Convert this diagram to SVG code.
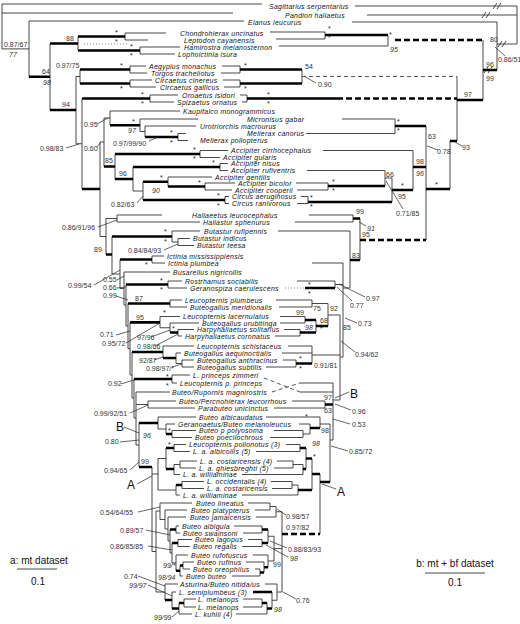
<svg xmlns="http://www.w3.org/2000/svg" width="520" height="624" viewBox="0 0 520 624">
<style>
.t{fill:none;stroke:#333;stroke-width:0.9}
.b{fill:none;stroke:#000;stroke-width:2.6}
.db{fill:none;stroke:#000;stroke-width:2.6;stroke-dasharray:6 3}
.dt{fill:none;stroke:#444;stroke-width:0.9;stroke-dasharray:4 3}
.dot{fill:none;stroke:#666;stroke-width:0.8;stroke-dasharray:1 2}
.p{fill:none;stroke:#222;stroke-width:0.7}
.tx{font-family:"Liberation Sans",Arial,sans-serif;font-style:italic;font-size:6.9px;letter-spacing:0.3px;fill:#111}
.n{font-family:"Liberation Sans",Arial,sans-serif;font-size:7px;fill:#333}
.i{font-style:italic}
.s{font-family:"Liberation Sans",Arial,sans-serif;font-size:7px;fill:#222}
.big{font-family:"Liberation Sans",Arial,sans-serif;font-size:12px;fill:#111}
.lg{font-family:"Liberation Sans",Arial,sans-serif;font-size:10px;fill:#111}
</style>
<rect width="520" height="624" fill="#fff"/>
<g id="connectors">
<g id="tree-a">
<path class="t" d="M2 4V48.9M2 4H262M2 13H233M2 48.9H29M29 21V76.75M29 21H244M50 43.5V110M78 36.5V50.5M125 33V40M125 33H166M125 40H148M140 47V54M140 47H180M140 54H175M76 76.5V143.75M76 76.5H80M76 143.75H82M80 69.5V83.5M130 66V73M130 66H146M130 73H147M130 80V87M130 80H152M130 87H156M82 98.5V189M150 95V102M150 95H178M150 102H174M100 142V236.5M100 142H104M100 236.5H106M104 118V166.5M104 118H110M110 111V125.25M110 111H180M140 119V131.5M140 119H198M140 131.5H145M145 126V137M145 126H196M178 133.5V140.5M178 133.5H186M178 140.5H188M115 154V179M200 150.5V157.5M200 150.5H228M200 157.5H220M133 167V191M133 191H143M220 163.5V170.5M220 163.5H228M220 170.5H228M143 181.75V200M168 177V186.5M168 177H212M205 183V190M205 183H235M205 190H232M225 196.5V203.5M225 196.5H229M225 203.5H229M106 218.5V254.5M106 218.5H117M117 215V222M117 215H162M117 222H200M112 236.5V274M112 274H120M172 231V242M172 231H200M172 242H178M178 238.5V245.5M178 238.5H190M178 245.5H194M120 259.5V288.5M120 288.5H124M152 256V263M152 256H164M152 263H165M124 272V305M124 272H170M124 305H126M126 284.5V326M126 326H128M168 281V288M168 281H182M168 288H187M128 303.5V348.7M128 348.7H130M170 300V307M170 300H182M170 307H187M130 322.4V375M130 375H132M160 316.5V327.75M160 316.5H180M160 327.75H170M170 323V332.5M170 323H199M178 329.5V336M178 329.5H194M178 336H182M132 352V398M132 398H134M163 346V358M163 346H194M176 353V363.5M176 353H181M176 363.5H182M182 360V367M182 360H194M182 367H194M134 379V418M134 418H136M172 375V383M172 375H190M172 383H177M136 392V445M136 392H170M136 404.5H148M136 445H139M148 401V408M148 401H176M148 408H195M139 423V467M158 417V429M158 417H196M158 429H166M166 424V434M166 424H175M172 430.5V437.5M172 430.5H196M172 437.5H192M152 467V551.5M152 474H158M152 551.5H156M158 458.5V490M158 458.5H166M158 490H176M166 448V469M174 444.5V451.5M174 444.5H186M174 451.5H190M174 464.5V474.5M174 464.5H180M174 474.5H180M180 461V468M180 461H197M180 468H196M176 485V495M176 495H180M182 481.5V488.5M182 481.5H204M182 488.5H204M156 511V592M156 511H160M156 592H165M160 503V519.5M160 503H192M160 519.5H165M165 510V529M165 510H187M165 529H168M168 517V541M168 517H186M168 541H170M170 529.5V553M170 553H172M176 526V533M176 526H179M176 533H180M172 543V562.9M172 562.9H176M178 539.5V546.5M178 539.5H192M178 546.5H190M176 555V570.75M176 555H188M180 565.5V576M180 576H183M183 562V569M183 562H194M183 569H190M165 584V600M165 584H178M172 592V608.5M172 592H176M179 603V614M179 614H192M184 599V607M184 599H196M184 607H196"/>
<path class="b" d="M29 76.75H50M50 43.5H78M50 110H76M78 36.5H125M78 50.5H140M80 69.5H130M80 83.5H130M82 98.5H150M82 189H100M104 166.5H115M110 125.25H140M145 137H178M115 154H200M115 179H133M133 167H220M143 181.75H168M143 200H225M168 186.5H205M106 254.5H112M112 236.5H172M120 259.5H152M126 284.5H168M128 303.5H170M130 322.4H160M170 332.5H178M132 352H163M163 358H176M134 379H172M139 423H158M139 467H152M166 434H172M166 448H174M166 469H174M176 485H182M170 529.5H176M172 543H178M176 570.75H180M180 565.5H183M165 600H172M172 608.5H179M179 603H184"/>
<path class="dot" d="M84 44H128"/>
</g>
<g id="tree-b">
<path class="t" d="M517 6V44M355 6H517M367 15H517M497 44H517M497 22V70M352 22H497M483 40V100M388 35V46M279 46H388M325 32V39M270 32H325M276 39H325M457 76.5V141M302 69.5V83.5M240 66V73M222 66H240M221 73H240M240 80V87M223 80H240M224 87H240M247 95V102M240 95H247M242 102H247M450 141V189M426 126V240M395 119V133.5M342 119H395M306 133.5H395M413 150.5V190M323 150.5H413M392 178V202M385 178H392M385 170.5V186M307 170.5H385M328 183V190M296 183H328M297 190H328M308 196.5V203.5M301 196.5H308M297 203.5H308M360 218.5V260M353 215V222M309 215H353M295 222H353M350 231V288M278 231H350M343 288H350M343 263V357M312 263H343M335 284.5H343M340 357H343M335 281V288M297 281H335M340 315V400M328 315H340M312 355H340M333 400H340M328 303.5V326M312 303.5H328M312 300V307M276 300H312M279 307H312M316 320V332.5M305 316.5V323M280 316.5H305M280 323H305M300 329.5V336M284 329.5H300M275 336H300M312 346V363.5M288 346H312M282 353H312M296 360V367M283 360H296M266 367H296M333 383V440M300 383H333M300 392H333M330 440H333M325 401V408M292 401H325M274 408H325M330 424V482M320 424H330M320 417V428M266 417H320M310 424V434M299 424H310M303 434H310M303 430.5V437.5M274 430.5H303M270 437.5H303M320 474V534M312 458.5V490M306 448V469M300 444.5V451.5M286 444.5H300M256 451.5H300M293 461V468M277 461H293M274 468H293M303 464.5V474.5M293 464.5H303M242 474.5H303M292 481.5V488.5M271 481.5H292M272 488.5H292M298 485V495M292 485H298M242 495H298M270 503V510M248 503H270M255 510H270M276 506.5V517M270 506.5H276M256 517H276M262 526V533M234 526H262M243 533H262M262 539.5V546.5M248 539.5H262M242 546.5H262M268 529.5V543M260 569V576M255 569H260M232 576H260M264 562V572.5M246 562H264M268 555V567.25M253 555H268M274 536.25V561M268 536.25H274M268 561H274M262 599V607M243 599H262M243 607H262M267 603V614M236 614H267M272 592V608.5M277 584V600.25M265 584H277M272 600.25H277M282 511.75V592M276 511.75H282M274 548.6H282M277 592H282"/>
<path class="b" d="M483 70H497M457 100H483M325 35H388M240 69.5H302M240 83.5H302M247 98.5H337M450 141H457M426 189H450M395 126H426M413 167H426M392 190H413M328 186H385M308 202H392M353 218.5H360M350 260H360M305 288H335M316 326H328M305 320H316M300 332.5H316M296 363.5H312M325 404.5H333M320 482H330M310 428H320M312 474H320M306 458.5H312M298 490H312M300 448H306M303 469H306M262 529.5H268M262 543H268M260 572.5H264M264 567.25H268M262 603H267M253 592H272M267 608.5H272"/>
<path class="db" d="M395 40H483M337 98.5H457M360 240H426M282 534H320"/>
<path class="dt" d="M302 76.5H457M264 378L300 392M272 392L300 383"/>
<path class="dot" d="M285 288H305"/>
<path class="t" stroke-width="1" d="M493 9L497 3M497 9L501 3M482 18L486 12M486 18L490 12M498 47L502 41M502 47L506 41M484 73L488 67M488 73L492 67"/>
</g>
<g id="pointers">
<path class="p" d="M66 148L79 144M97 124L108 118M97 147L100 143M149 141L158 137M137 203L143 196M98 227L117 220M164 250L178 244M94 285L120 270M117 280L124 276M117 288L126 287M116 296L128 300M116 335L130 331M126 343L160 323M151 337L170 330M155 346L178 334M154 360L163 357M172 367L182 364M121 384L134 380M130 413L148 405M124 427L139 433M120 442L139 440M130 470L139 462M137 484L152 476M138 512L160 507M146 530L170 535M148 546L172 550M138 576L165 586M148 585L172 596M172 617L179 611"/>
<path class="p" d="M495 47L505 56M304 76L316 83M455 142L462 146M427 146L438 150M403 209L386 181M359 222L366 226M339 284L365 297M337 287L352 301M345 318L357 323M341 341L355 352M335 398L349 392M335 404L351 410M333 419L350 424M331 446L348 451M322 484L336 489M277 509L286 515M270 541L287 548M266 545L288 557M283 592L296 599"/>
</g>
</g>
<g id="support-a">
<text class="n" x="4" y="46.5">0.87/67</text><text class="n i" x="9" y="57">77</text>
<text class="n" x="42" y="74">64</text><text class="n i" x="43" y="85">98</text>
<text class="n" x="66" y="41">88</text>
<text class="n" x="56" y="68">0.97/75</text>
<text class="n" x="62" y="107">94</text>
<text class="n" x="40" y="151">0.98/83</text>
<text class="n" x="84" y="151">0.60</text>
<text class="n" x="84" y="127">0.95</text>
<text class="n i" x="128" y="133">97</text>
<text class="n" x="113" y="146">0.97/99/90</text>
<text class="n" x="105" y="163">85</text>
<text class="n" x="119" y="176">96</text>
<text class="n i" x="152" y="193">90</text>
<text class="n" x="111" y="207">0.82/63</text>
<text class="n" x="62" y="230">0.86/91/96</text>
<text class="n" x="94" y="252">89</text>
<text class="n" x="128" y="253">0.84/84/93</text>
<text class="n" x="68" y="288">0.99/54</text>
<text class="n" x="103" y="282">0.55</text>
<text class="n" x="103" y="290">0.66</text>
<text class="n" x="103" y="298">0.99</text>
<text class="n" x="135" y="301">87</text>
<text class="n" x="136" y="320">95</text>
<text class="n" x="100" y="337">0.71</text>
<text class="n" x="102" y="346">0.95/72</text>
<text class="n" x="137" y="340">97/96</text>
<text class="n" x="137" y="349">0.98/66</text>
<text class="n" x="139" y="362.5">92/87</text>
<text class="n" x="146" y="370.5">0.98/97/*</text>
<text class="n" x="108" y="386">0.92</text>
<text class="n" x="94" y="416">0.99/92/51</text>
<text class="big" x="116" y="431">B</text>
<text class="n" x="105" y="444">0.80</text>
<text class="n i" x="143" y="438">96</text>
<text class="n" x="104" y="473">0.94/65</text>
<text class="n" x="141" y="464">99</text>
<text class="big" x="127" y="489">A</text>
<text class="n" x="100" y="515">0.54/64/55</text>
<text class="n" x="120" y="533">0.89/57</text>
<text class="n" x="110" y="549">0.86/85/85</text>
<text class="n i" x="163" y="568">99/*</text>
<text class="n i" x="158" y="580">98/94</text>
<text class="n" x="124" y="579">0.74</text>
<text class="n i" x="129" y="588">99/97</text>
<text class="n i" x="154" y="620">99/99</text>
<text class="s" x="115" y="35">*</text><text class="s" x="115" y="44">*</text>
<text class="s" x="130" y="49">*</text><text class="s" x="130" y="58">*</text>
<text class="s" x="120" y="68">*</text>
<text class="s" x="120" y="91">*</text>
<text class="s" x="141" y="97">*</text><text class="s" x="141" y="106">*</text>
<text class="s" x="132" y="124">*</text>
<text class="s" x="170" y="135">*</text><text class="s" x="170" y="145">*</text>
<text class="s" x="193" y="152">*</text><text class="s" x="193" y="161">*</text>
<text class="s" x="212" y="165">*</text>
<text class="s" x="198" y="185">*</text><text class="s" x="160" y="180">*</text>
<text class="s" x="217" y="198">*</text><text class="s" x="217" y="208">*</text>
<text class="s" x="164" y="234">*</text><text class="s" x="164" y="244">*</text>
<text class="s" x="145" y="267">*</text>
<text class="s" x="160" y="283">*</text><text class="s" x="160" y="292">*</text>
<text class="s" x="163" y="315">*</text><text class="s" x="172" y="331">*</text>
<text class="s" x="166" y="379">*</text><text class="s" x="166" y="388">*</text>
<text class="s" x="168" y="433">*</text><text class="s" x="168" y="447">*</text>
</g>
<g id="support-b">
<text class="n" x="490" y="42">80</text>
<text class="n" x="498" y="62" font-size="6.5">0.86/51</text>
<text class="n" x="486" y="67">96</text><text class="n" x="486" y="81">99</text>
<text class="n i" x="390" y="52">95</text>
<text class="n" x="305" y="69">54</text>
<text class="n" x="318" y="87">0.90</text>
<text class="n" x="464" y="97">97</text>
<text class="n" x="462" y="150">93</text>
<text class="n" x="428" y="139">63</text>
<text class="n" x="437" y="154">0.78</text>
<text class="n" x="416" y="164">98</text><text class="n i" x="416" y="176">96</text>
<text class="n" x="398" y="199">95</text>
<text class="n" x="386" y="177">66</text>
<text class="n" x="396" y="216">0.71/85</text>
<text class="n" x="356" y="214">99</text>
<text class="n i" x="367" y="231">91</text>
<text class="n" x="362" y="237">95</text>
<text class="n" x="352" y="258">83</text>
<text class="n" x="366" y="301">0.97</text>
<text class="n" x="350" y="308">0.77</text>
<text class="n" x="313" y="311">75</text>
<text class="n" x="330" y="311">92</text>
<text class="n" x="296" y="315">99</text>
<text class="n" x="320" y="323">68</text>
<text class="n" x="343" y="330">85</text>
<text class="n" x="358" y="326">0.73</text>
<text class="n i" x="305" y="330">98</text>
<text class="n" x="355" y="357">0.94/62</text>
<text class="n" x="314" y="368">0.91/81</text>
<text class="big" x="350" y="398">B</text>
<text class="n" x="352" y="414">0.96</text>
<text class="n" x="324" y="400">97</text>
<text class="n" x="324" y="413">63</text>
<text class="n" x="352" y="427">0.53</text>
<text class="n" x="321" y="433">98</text>
<text class="n i" x="312" y="446">98</text>
<text class="n" x="349" y="454">0.85/72</text>
<text class="big" x="337" y="496">A</text>
<text class="n" x="286" y="519">0.98/57</text>
<text class="n" x="286" y="530">0.97/82</text>
<text class="n" x="288" y="552">0.88/83/93</text>
<text class="n i" x="290" y="561">98</text>
<text class="n" x="273" y="567">99</text>
<text class="n" x="296" y="603">0.76</text>
<text class="n i" x="274" y="612">98</text>
<text class="s" x="389" y="37">*</text>
<text class="s" x="328" y="31">*</text><text class="s" x="328" y="40">*</text>
<text class="s" x="244" y="68">*</text>
<text class="s" x="244" y="91">*</text>
<text class="s" x="267" y="97">*</text><text class="s" x="267" y="106">*</text>
<text class="s" x="397" y="124">*</text><text class="s" x="397" y="133">*</text>
<text class="s" x="435" y="187">*</text>
<text class="s" x="401" y="188">*</text>
<text class="s" x="332" y="184">*</text><text class="s" x="332" y="193">*</text>
<text class="s" x="310" y="200">*</text><text class="s" x="310" y="209">*</text>
<text class="s" x="308" y="287">*</text><text class="s" x="308" y="296">*</text>
<text class="s" x="320" y="331">*</text>
<text class="s" x="299" y="361">*</text><text class="s" x="299" y="371">*</text>
<text class="s" x="305" y="419">*</text>
<text class="s" x="313" y="459">*</text>
</g>
<g id="taxa">
<g id="t01"><text class="tx" x="269" y="8.7">Sagittarius serpentarius</text></g>
<g id="t02"><text class="tx" x="285" y="17.7">Pandion haliaetus</text></g>
<g id="t03"><text class="tx" x="248" y="24.7">Elanus leucurus</text></g>
<g id="t04"><text class="tx" x="180" y="35.7">Chondrohierax uncinatus</text></g>
<g id="t05"><text class="tx" x="184" y="42.7">Leptodon cayanensis</text></g>
<g id="t06"><text class="tx" x="184" y="49.7">Hamirostra melanosternon</text></g>
<g id="t07"><text class="tx" x="178" y="56.7">Lophoictinia isura</text></g>
<g id="t08"><text class="tx" x="149" y="68.7">Aegypius monachus</text></g>
<g id="t09"><text class="tx" x="151" y="75.7">Torgos tracheliotus</text></g>
<g id="t10"><text class="tx" x="155" y="82.7">Circaetus cinereus</text></g>
<g id="t11"><text class="tx" x="160" y="89.7">Circaetus gallicus</text></g>
<g id="t12"><text class="tx" x="182" y="97.7">Oroaetus isidori</text></g>
<g id="t13"><text class="tx" x="177" y="104.7">Spizaetus ornatus</text></g>
<g id="t14"><text class="tx" x="183" y="113.7">Kaupifalco monogrammicus</text></g>
<g id="t15"><text class="tx" x="247" y="121.7">Micronisus gabar</text></g>
<g id="t16"><text class="tx" x="200" y="128.7">Urotriorchis macrourus</text></g>
<g id="t17"><text class="tx" x="247" y="136.2">Melierax canorus</text></g>
<g id="t18"><text class="tx" x="200" y="143.2">Melierax poliopterus</text></g>
<g id="t19"><text class="tx" x="231" y="153.2">Accipiter cirrhocephalus</text></g>
<g id="t20"><text class="tx" x="223" y="160.2">Accipiter gularis</text></g>
<g id="t21"><text class="tx" x="231" y="166.2">Accipiter nisus</text></g>
<g id="t22"><text class="tx" x="231" y="173.2">Accipiter rufiventris</text></g>
<g id="t23"><text class="tx" x="215" y="179.7">Accipiter gentilis</text></g>
<g id="t24"><text class="tx" x="238" y="185.7">Accipiter bicolor</text></g>
<g id="t25"><text class="tx" x="235" y="192.7">Accipiter cooperii</text></g>
<g id="t26"><text class="tx" x="232" y="199.2">Circus aeruginosus</text></g>
<g id="t27"><text class="tx" x="232" y="206.2">Circus ranivorous</text></g>
<g id="t28"><text class="tx" x="192" y="217.7">Haliaeetus leucocephalus</text></g>
<g id="t29"><text class="tx" x="203" y="224.7">Haliastur sphenurus</text></g>
<g id="t30"><text class="tx" x="204" y="233.7">Butastur rufipennis</text></g>
<g id="t31"><text class="tx" x="193" y="241.2">Butastur indicus</text></g>
<g id="t32"><text class="tx" x="197" y="248.2">Butastur teesa</text></g>
<g id="t33"><text class="tx" x="167" y="258.7">Ictinia mississippiensis</text></g>
<g id="t34"><text class="tx" x="168" y="265.7">Ictinia plumbea</text></g>
<g id="t35"><text class="tx" x="173" y="274.7">Busarellus nigricollis</text></g>
<g id="t36"><text class="tx" x="185" y="283.7">Rostrhamus sociabilis</text></g>
<g id="t37"><text class="tx" x="190" y="290.7">Geranospiza caerulescens</text></g>
<g id="t38"><text class="tx" x="185" y="302.7">Leucopternis plumbeus</text></g>
<g id="t39"><text class="tx" x="190" y="309.7">Buteogallus meridionalis</text></g>
<g id="t40"><text class="tx" x="183" y="319.2">Leucopternis lacernulatus</text></g>
<g id="t41"><text class="tx" x="202" y="325.7">Buteogallus urubitinga</text></g>
<g id="t42"><text class="tx" x="197" y="332.2">Harpyhaliaetus solitarius</text></g>
<g id="t43"><text class="tx" x="185" y="338.7">Harpyhaliaetus coronatus</text></g>
<g id="t44"><text class="tx" x="197" y="348.7">Leucopternis schistaceus</text></g>
<g id="t45"><text class="tx" x="184" y="355.7">Buteogallus aequinoctialis</text></g>
<g id="t46"><text class="tx" x="197" y="362.7">Buteogallus anthracinus</text></g>
<g id="t47"><text class="tx" x="197" y="369.7">Buteogallus subtilis</text></g>
<g id="t48"><text class="tx" x="193" y="377.7">L. princeps zimmeri</text></g>
<g id="t49"><text class="tx" x="180" y="385.7">Leucopternis p. princeps</text></g>
<g id="t50"><text class="tx" x="172" y="394.7">Buteo/Rupornis magnirostris</text></g>
<g id="t51"><text class="tx" x="179" y="403.7">Buteo/Percnohierax leucorrhous</text></g>
<g id="t52"><text class="tx" x="198" y="410.7">Parabuteo unicinctus</text></g>
<g id="t53"><text class="tx" x="199" y="419.7">Buteo albicaudatus</text></g>
<g id="t54"><text class="tx" x="178" y="426.7">Geranoaetus/Buteo melanoleucus</text></g>
<g id="t55"><text class="tx" x="199" y="433.2">Buteo p polyosoma</text></g>
<g id="t56"><text class="tx" x="195" y="440.2">Buteo poecilochrous</text></g>
<g id="t57"><text class="tx" x="189" y="447.2">Leucopternis polionotus (3)</text></g>
<g id="t58"><text class="tx" x="193" y="454.2">L. a. albicollis (5)</text></g>
<g id="t59"><text class="tx" x="200" y="463.7">L. a. costaricensis (4)</text></g>
<g id="t60"><text class="tx" x="199" y="470.7">L. a. ghiesbreghti (5)</text></g>
<g id="t61"><text class="tx" x="183" y="477.2">L. a. williaminae</text></g>
<g id="t62"><text class="tx" x="207" y="484.2">L. occidentalis (4)</text></g>
<g id="t63"><text class="tx" x="207" y="491.2">L. a. costaricensis</text></g>
<g id="t64"><text class="tx" x="183" y="497.7">L. a. williaminae</text></g>
<g id="t65"><text class="tx" x="196" y="505.7">Buteo lineatus</text></g>
<g id="t66"><text class="tx" x="191" y="512.7">Buteo platypterus</text></g>
<g id="t67"><text class="tx" x="190" y="519.7">Buteo jamaicensis</text></g>
<g id="t68"><text class="tx" x="182" y="528.7">Buteo albigula</text></g>
<g id="t69"><text class="tx" x="183" y="535.7">Buteo swainsoni</text></g>
<g id="t70"><text class="tx" x="195" y="542.2">Buteo lagopus</text></g>
<g id="t71"><text class="tx" x="193" y="549.2">Buteo regalis</text></g>
<g id="t72"><text class="tx" x="191" y="557.7">Buteo rufofuscus</text></g>
<g id="t73"><text class="tx" x="197" y="564.7">Buteo rufinus</text></g>
<g id="t74"><text class="tx" x="193" y="571.7">Buteo oreophilus</text></g>
<g id="t75"><text class="tx" x="186" y="578.7">Buteo buteo</text></g>
<g id="t76"><text class="tx" x="180" y="586.7">Asturina/Buteo nitida/us</text></g>
<g id="t77"><text class="tx" x="179" y="594.7">L. semiplumbeus (3)</text></g>
<g id="t78"><text class="tx" x="198" y="601.7">L. melanops</text></g>
<g id="t79"><text class="tx" x="198" y="609.7">L. melanops</text></g>
<g id="t80"><text class="tx" x="195" y="616.7">L. kuhlii (4)</text></g>
</g>
<g id="scale-a">
<text class="lg" x="39" y="564" text-anchor="middle">a: mt dataset</text>
<path class="t" stroke="#111" d="M17 569H57"/>
<text class="lg" x="38" y="585" text-anchor="middle">0.1</text>
</g>
<g id="scale-b">
<text class="lg" x="455" y="567" text-anchor="middle">b: mt + bf dataset</text>
<path class="t" stroke="#111" d="M425 573H485"/>
<text class="lg" x="455" y="586" text-anchor="middle">0.1</text>
</g>
</svg>
